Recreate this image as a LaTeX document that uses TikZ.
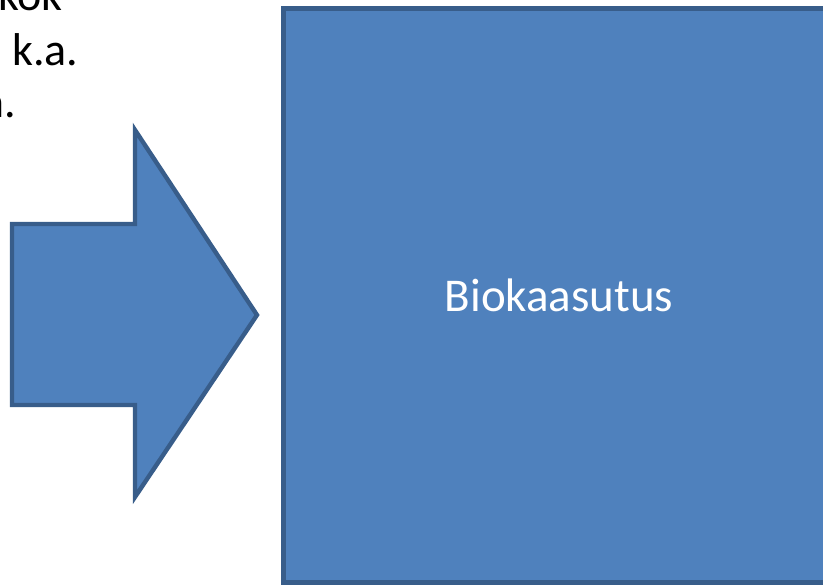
\documentclass[tikz,border=0pt]{standalone}
\usepackage{fontspec}
\setmainfont{Carlito}
\usepackage{xcolor}
\definecolor{boxfill}{HTML}{4F81BD}
\definecolor{boxline}{HTML}{385D8A}

\begin{document}
\begin{tikzpicture}[x=0.5pt,y=-0.5pt,
    bodytext/.style={inner sep=0pt,font=\fontsize{23}{27}\selectfont,text=black},
    stagebox/.style={draw=boxline,fill=boxfill,line width=2.5pt,inner sep=0pt,
      minimum width=276pt,minimum height=287pt,text=white,font=\fontsize{23.5}{28}\selectfont}]
        \useasboundingbox (0,0) rectangle (823,584);
        \clip (0,0) rectangle (823,584);
        % clipped text on the left
        \node[bodytext,anchor=base east] at (63,10) (kok) {kok};
        \node[bodytext,anchor=base west] at (12,65) (ka) {k.a.};
        \node[bodytext,anchor=base east] at (17,117) (a) {a.};
        % block arrow
        \draw[draw=boxline,fill=boxfill,line width=2.2pt,line join=miter]
            (12,224) -- (135,224) -- (135,130) -- (257,315) -- (135,497) -- (135,405) -- (12,405) -- cycle;
        % main box
        \node[stagebox] at (559,295) (gas) {Biokaasutus};
    \end{tikzpicture}
\end{document}
